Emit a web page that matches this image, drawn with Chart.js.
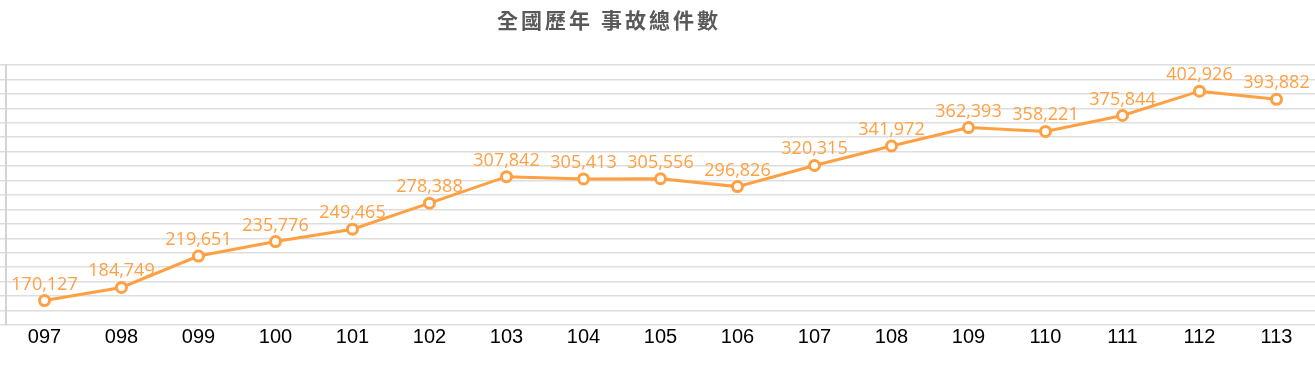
<!DOCTYPE html>
<html>
<head>
<meta charset="utf-8">
<script src="https://cdn.jsdelivr.net/npm/chart.js@4/dist/chart.umd.min.js"></script>
<style>
  html, body { margin: 0; padding: 0; background: #fff; }
  #wrap { width: 1315px; height: 369px; }
</style>
</head>
<body>
<div id="wrap"><canvas id="c" width="1315" height="369"></canvas></div>
<script>
// data
var chartTitle = '全國歷年 事故總件數';
var years = ['097', '098', '099', '100', '101', '102', '103', '104', '105', '106', '107', '108', '109', '110', '111', '112', '113'];
var accidents = [170127, 184749, 219651, 235776, 249465, 278388, 307842, 305413, 305556, 296826, 320315, 341972, 362393, 358221, 375844, 402926, 393882];

var orange = '#FFA043';
var yMin = 143000, yMax = 432000, yLines = 18;

function fmt(n) {
    return n.toString().replace(/\B(?=(\d{3})+(?!\d))/g, ',');
}

// title drawn a bit left of centre, like the source
var titlePlugin = {
    id: 'titleText',
    afterDraw: function (chart) {
        var ctx = chart.ctx;
        ctx.save();
        ctx.font = 'bold 21px "Noto Sans CJK TC", "Noto Sans CJK SC", sans-serif';
        ctx.fillStyle = '#595959';
        ctx.textAlign = 'center';
        ctx.textBaseline = 'middle';
        if ('letterSpacing' in ctx) ctx.letterSpacing = '3px';
        ctx.fillText(chartTitle, 609, 20);
        ctx.restore();
    }
};

// value labels above each point
var valueLabels = {
    id: 'valueLabels',
    afterDatasetsDraw: function (chart) {
        var ctx = chart.ctx;
        var meta = chart.getDatasetMeta(0);
        ctx.save();
        ctx.font = '18px "Open Sans", sans-serif';
        ctx.fillStyle = orange;
        ctx.textAlign = 'center';
        ctx.textBaseline = 'alphabetic';
        meta.data.forEach(function (pt, i) {
            ctx.fillText(fmt(chart.data.datasets[0].data[i]), pt.x, pt.y - 11);
        });
        ctx.restore();
    }
};

new Chart(document.getElementById('c').getContext('2d'), {
    type: 'line',
    data: {
        labels: years,
        datasets: [{
            data: accidents,
            borderColor: orange,
            borderWidth: 3,
            pointRadius: 5,
            pointBorderWidth: 3,
            pointBorderColor: orange,
            pointBackgroundColor: '#fff',
            tension: 0
        }]
    },
    options: {
        responsive: false,
        animation: false,
        layout: { autoPadding: false, padding: { top: 65, bottom: 20, left: 0, right: 0 } },
        plugins: {
            legend: { display: false },
            tooltip: { enabled: false },
            title: { display: false }
        },
        scales: {
            x: {
                offset: true,
                grid: { display: false, drawTicks: false },
                border: { display: false },
                ticks: {
                    color: '#000',
                    padding: 0,
                    maxRotation: 0,
                    font: { family: '"Liberation Sans", Arial, sans-serif', size: 20 }
                }
            },
            y: {
                min: yMin,
                max: yMax,
                afterBuildTicks: function (scale) {
                    var step = (yMax - yMin) / yLines;
                    var t = [];
                    for (var i = 0; i <= yLines; i++) t.push({ value: yMin + i * step });
                    scale.ticks = t;
                },
                afterFit: function (scale) { scale.width = 6; },
                grid: { color: '#dedede', lineWidth: 1.5, tickLength: 6 },
                border: { color: '#d4d4d4', width: 2 },
                ticks: { display: false }
            }
        }
    },
    plugins: [titlePlugin, valueLabels]
});
</script>
</body>
</html>
